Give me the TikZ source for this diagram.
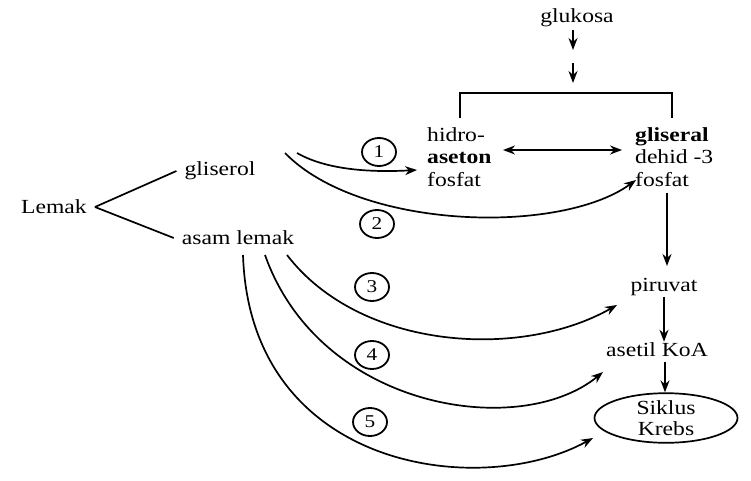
\documentclass[tikz,border=0pt]{standalone}
\usepackage{fontspec}
\setmainfont{Liberation Serif}[FakeStretch=1.18]
\usetikzlibrary{arrows.meta,shapes.geometric,calc}
\begin{document}
\begin{tikzpicture}[x=1pt,y=-1pt,
  txt/.style={font=\fontsize{20}{22.5}\selectfont, inner sep=1pt},
  num/.style={draw, ellipse, line width=1.8pt, minimum width=34pt, minimum height=28pt, inner sep=0pt, font=\fontsize{18}{20}\selectfont},
  ln/.style={line width=1.7pt},
  arr/.style={line width=1.7pt, -{Stealth[length=12pt,width=9pt]}}
]
\useasboundingbox (0,0) rectangle (751,481);

% nodes
\node[txt] (gluk) at (577,18) {glukosa};
\node[txt, anchor=west, align=left] (hid) at (426,157) {hidro-\\\textbf{aseton}\\fosfat};
\node[txt, anchor=west, align=left] (glis) at (634,157) {\textbf{gliseral}\\dehid -3\\fosfat};
\node[txt] (lemak) at (54,207) {Lemak};
\node[txt] (gliserol) at (220,171) {gliserol};
\node[txt] (asam) at (238,238) {asam lemak};
\node[txt] (piru) at (664,287) {piruvat};
\node[txt] (aset) at (657,350) {asetil KoA};
\node[draw, ellipse, line width=1.7pt, minimum width=143pt, minimum height=47pt, inner sep=0pt,
      font=\fontsize{20}{21}\selectfont, align=center] (krebs) at (666,418) {Siklus\\Krebs};

\node[num] (n1) at (379,152) {1};
\node[num] (n2) at (377,224) {2};
\node[num] (n3) at (372,287) {3};
\node[num] (n4) at (372,355) {4};
\node[num] (n5) at (370,422) {5};

% coordinates
\coordinate (g1) at (573,30);
\coordinate (g2) at (573,50);
\coordinate (g3) at (573,63);
\coordinate (g4) at (573,83);
\coordinate (bl) at (460,118);
\coordinate (br) at (672,118);
\coordinate (s1) at (297,153);
\coordinate (s2) at (285,153);
\coordinate (s3) at (287,255);
\coordinate (s4) at (265,255);
\coordinate (s5) at (243,255);
\coordinate (e1) at (417,170);
\coordinate (e2) at (636,180);
\coordinate (e3) at (617,305);
\coordinate (e4) at (603,372);
\coordinate (e5) at (593,438);
\coordinate (d1) at (503,150);
\coordinate (d2) at (622,150);
\coordinate (v1) at (667,193);
\coordinate (v2) at (667,266);
\coordinate (k1) at (665,362);

% glukosa arrows and bracket
\draw[arr] (g1) -- (g2);
\draw[arr] (g3) -- (g4);
\draw[ln] (bl) |- (573,93) -| (br);

% Lemak branches
\draw[ln] ([xshift=7pt]lemak.east) -- ([xshift=-7pt]gliserol.west);
\draw[ln] ([xshift=7pt]lemak.east) -- ([xshift=-7pt]asam.west);

% double arrow
\draw[line width=1.7pt, {Stealth[length=12pt,width=9pt]}-{Stealth[length=12pt,width=9pt]}] (d1) -- (d2);

% curves
\draw[arr] (s1) .. controls (330,172) and (380,172) .. (e1);
\draw[arr] (s2) .. controls (360,230) and (560,235) .. (e2);
\draw[arr] (s3) .. controls (360,350) and (520,360) .. (e3);
\draw[arr] (s4) .. controls (320,410) and (520,440) .. (e4);
\draw[arr] (s5) .. controls (250,470) and (480,500) .. (e5);

% right column
\draw[arr] (v1) -- (v2);
\draw[arr] (piru.south) -- (aset.north -| piru.south);
\draw[arr] (k1) -- (k1 |- krebs.north);
\end{tikzpicture}
\end{document}
